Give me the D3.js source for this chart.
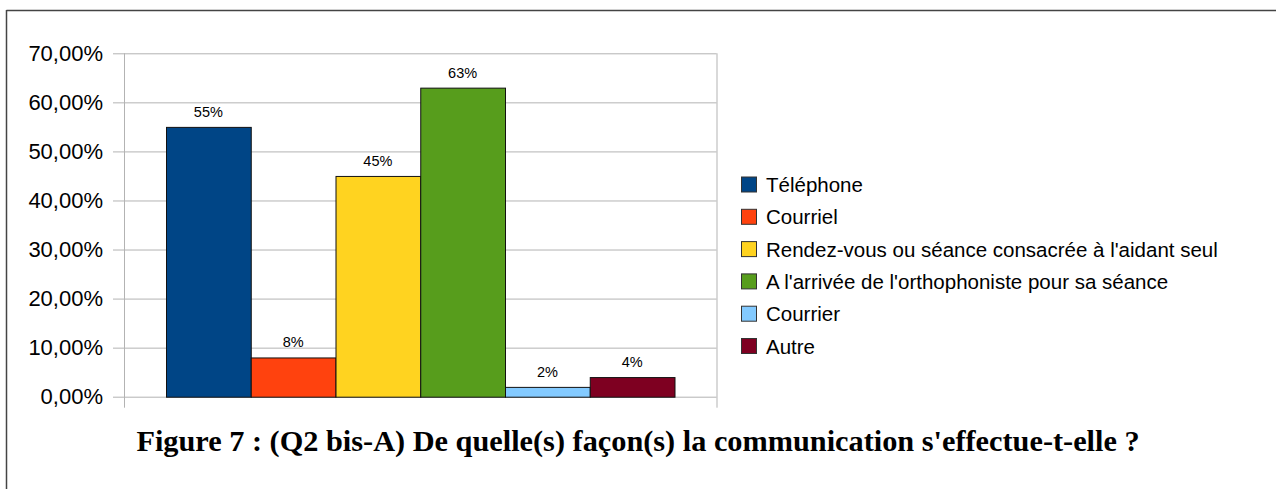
<!DOCTYPE html>
<html><head><meta charset="utf-8">
<script src="https://cdn.jsdelivr.net/npm/d3@7/dist/d3.min.js"></script>
<style>body{margin:0;background:#fff}svg{display:block}</style>
</head><body>
<svg id="c" width="1276" height="489"></svg>
<script>
const series = ["Téléphone","Courriel","Rendez-vous ou séance consacrée à l'aidant seul","A l'arrivée de l'orthophoniste pour sa séance","Courrier","Autre"];
const values = [0.55, 0.08, 0.45, 0.63, 0.02, 0.04];
const valueLabels = ["55%","8%","45%","63%","2%","4%"];
const colors = ["#004586","#ff420e","#ffd320","#579d1c","#83caff","#7e0021"];
const yTicks = [0,0.1,0.2,0.3,0.4,0.5,0.6,0.7];
const title = "Figure 7 : (Q2 bis-A) De quelle(s) façon(s) la communication s'effectue-t-elle ?";

const svg = d3.select("#c");
const L = 124, R = 716.5, T = 53.3, B = 396.7;
const y = d3.scaleLinear().domain([0,0.7]).range([B,T]);
const x = d3.scaleBand().domain(series).range([166, 674.5]).paddingInner(0);

// frame
svg.append("line").attr("x1",6.5).attr("x2",1276).attr("y1",10.5).attr("y2",10.5).attr("stroke","#444").attr("stroke-width",1.5);
svg.append("line").attr("x1",6.5).attr("x2",6.5).attr("y1",10).attr("y2",489).attr("stroke","#444").attr("stroke-width",1.5);

// grid
const fmt = d => d3.format(".2f")(d*100).replace(".",",") + "%";
const yAxis = d3.axisLeft(y).tickValues(yTicks).tickSize(R - L + 11).tickFormat(fmt).tickPadding(10);
const gy = svg.append("g").attr("transform",`translate(${R},0)`).call(yAxis);
gy.select(".domain").remove();
gy.selectAll(".tick line").attr("stroke","#b3b3b3");
gy.selectAll(".tick text").attr("font-family","Liberation Sans, Arial, sans-serif").attr("font-size",22).attr("fill","#000");

// vertical axis lines
svg.append("line").attr("x1",L+0.5).attr("x2",L+0.5).attr("y1",T).attr("y2",B+11).attr("stroke","#b3b3b3");
svg.append("line").attr("x1",R+0.5).attr("x2",R+0.5).attr("y1",T).attr("y2",B+11).attr("stroke","#b3b3b3");

// bars
svg.append("g").selectAll("rect").data(series).join("rect")
  .attr("x", d => x(d)+0.5)
  .attr("y", (d,i) => y(values[i])+0.5)
  .attr("width", x.bandwidth())
  .attr("height", (d,i) => y(0) - y(values[i]))
  .attr("fill", (d,i) => colors[i])
  .attr("stroke","#111").attr("stroke-width",1);

// value labels
svg.append("g").selectAll("text").data(series).join("text")
  .attr("x", d => x(d) + x.bandwidth()/2)
  .attr("y", (d,i) => y(values[i]) - 10)
  .attr("text-anchor","middle")
  .attr("font-family","Liberation Sans, Arial, sans-serif").attr("font-size",14.5)
  .text((d,i) => valueLabels[i]);

// legend
const lg = svg.append("g");
series.forEach((s,i) => {
  const cy = 185 + i*32.3;
  lg.append("rect").attr("x",741.5).attr("y",cy-8).attr("width",15).attr("height",15)
    .attr("fill",colors[i]).attr("stroke","#333").attr("stroke-width",1);
  lg.append("text").attr("x",766).attr("y",cy+7)
    .attr("font-family","Liberation Sans, Arial, sans-serif").attr("font-size",20.5).text(s);
});

// title
svg.append("text").attr("x",638).attr("y",451).attr("text-anchor","middle")
  .attr("font-family","Liberation Serif, Times New Roman, serif").attr("font-weight","bold")
  .attr("font-size",30.3).text(title);
</script>
</body></html>
